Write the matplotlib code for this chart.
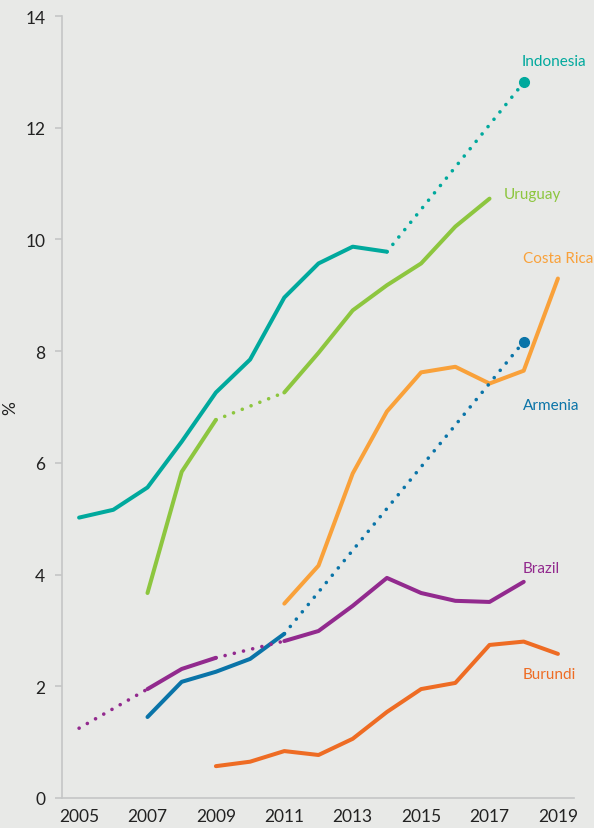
import matplotlib
matplotlib.use("Agg")
import matplotlib.pyplot as plt

years = list(range(2005, 2020))

# Values (None = no data)
indonesia = [5.02, 5.16, 5.56, 6.38, 7.26, 7.85, 8.96, 9.57, 9.87, 9.78, None, None, None, 12.81, None]
uruguay = [None, None, 3.67, 5.84, 6.77, None, 7.26, 7.97, 8.73, 9.18, 9.57, 10.23, 10.73, None, None]
costa_rica = [None, None, None, None, None, None, 3.48, 4.16, 5.81, 6.92, 7.62, 7.72, 7.42, 7.65, 9.30]
armenia = [None, None, 1.45, 2.08, 2.26, 2.49, 2.94, None, None, None, None, None, None, 8.17, None]
brazil = [1.25, None, 1.95, 2.31, 2.51, None, 2.81, 2.99, 3.44, 3.94, 3.67, 3.53, 3.51, 3.87, None]
burundi = [None, None, None, None, 0.57, 0.65, 0.84, 0.77, 1.06, 1.54, 1.95, 2.06, 2.74, 2.80, 2.58]

series = [
    ("Indonesia", indonesia, "#00a99d", [(2005, 2014)], [(2014, 2018)], 2018),
    ("Uruguay", uruguay, "#8dc63f", [(2007, 2009), (2011, 2017)], [(2009, 2011)], None),
    ("Costa Rica", costa_rica, "#f9a13a", [(2011, 2019)], [], None),
    ("Armenia", armenia, "#0a74a8", [(2007, 2011)], [(2011, 2018)], 2018),
    ("Brazil", brazil, "#922a8e", [(2007, 2009), (2011, 2018)], [(2005, 2007), (2009, 2011)], None),
    ("Burundi", burundi, "#ee6c24", [(2009, 2019)], [], None),
]

label_pos = {
    "Indonesia": (2017.95, 13.19),
    "Uruguay": (2017.42, 10.81),
    "Costa Rica": (2017.98, 9.66),
    "Armenia": (2017.98, 7.03),
    "Brazil": (2017.98, 4.12),
    "Burundi": (2017.98, 2.22),
}

bg = "#e8e9e7"
fig = plt.figure(figsize=(5.94, 8.29), dpi=100, facecolor=bg)
ax = fig.add_axes([62 / 594, 1 - 799 / 829, (574 - 62) / 594, (799 - 17) / 829])
ax.set_facecolor(bg)

font = ["Lato", "DejaVu Sans"]

def seg(vals, a, b):
    xs, ys = [], []
    for y, v in zip(years, vals):
        if a <= y <= b and v is not None:
            xs.append(y)
            ys.append(v)
    return xs, ys

lw = 2.9
for name, vals, col, solids, dots, mk in series:
    for a, b in solids:
        xs, ys = seg(vals, a, b)
        ax.plot(xs, ys, color=col, lw=lw, solid_capstyle="round", solid_joinstyle="round", zorder=3)
    for a, b in dots:
        xs, ys = seg(vals, a, b)
        ax.plot(xs, ys, color=col, lw=lw * 0.9, linestyle=(0, (0.01, 2.6)), dash_capstyle="round", zorder=3)
    if mk is not None:
        v = vals[years.index(mk)]
        ax.plot([mk], [v], "o", color=col, ms=7, zorder=4)
    lx, ly = label_pos[name]
    ax.text(lx, ly, name, color=col, fontsize=11, family=font, ha="left", va="center")

ax.set_xlim(2004.5, 2019.47)
ax.set_ylim(0, 14)
ax.set_xticks(list(range(2005, 2020, 2)))
ax.set_yticks(list(range(0, 15, 2)))
for s in ["top", "right"]:
    ax.spines[s].set_visible(False)
for s in ["left", "bottom"]:
    ax.spines[s].set_color("#c4c6c6")
    ax.spines[s].set_linewidth(1.2)
ax.tick_params(axis="x", length=0, pad=7, labelsize=12.5, colors="#222222")
ax.tick_params(axis="y", length=5, width=1.2, color="#c4c6c6", pad=7, labelsize=12.5, labelcolor="#222222")
for lab in ax.get_xticklabels() + ax.get_yticklabels():
    lab.set_family(font)
ax.set_ylabel("%", family=font, fontsize=12.5, color="#222222")
ax.yaxis.set_label_coords(-0.085, 0.5)

fig.savefig("out.png", dpi=100, facecolor=bg)
